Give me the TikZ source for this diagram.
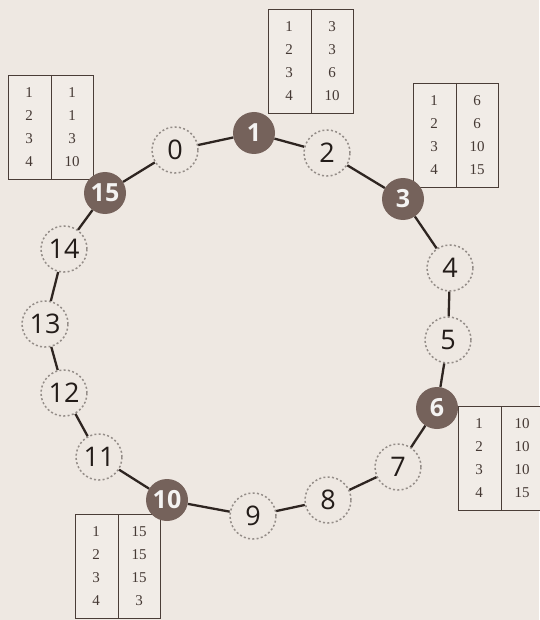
\documentclass[tikz,border=0pt]{standalone}
\usepackage{fontspec}
\setmainfont{Liberation Serif}
\setsansfont{Open Sans}
\usetikzlibrary{calc}
\definecolor{bgc}{HTML}{EEE8E2}
\definecolor{tfill}{HTML}{F1ECE7}
\definecolor{actc}{HTML}{75625B}
\definecolor{linec}{HTML}{2E2521}
\definecolor{dashc}{HTML}{948D88}
\definecolor{numc}{HTML}{231C19}
\definecolor{tabc}{HTML}{4A3D37}
\definecolor{tnumc}{HTML}{453934}
\newcommand\ftable[7]{%
  \node[tbox, anchor=north west] (#1) at (#2,#3) {};
  \draw[tline] (#1.north) -- (#1.south);
  \foreach \i/\v in {1/#4,2/#5,3/#6,4/#7}{
    \node[tnum] (#1-k\i) at ($(#1.north west)+(21,{18+23*(\i-1)})$) {\i};
    \node[tnum] (#1-v\i) at ($(#1.north)+(21,{18+23*(\i-1)})$) {\v};
  }}
\begin{document}
\begin{tikzpicture}[x=1pt,y=-1pt,
  act/.style={circle, fill=actc, minimum size=42pt, inner sep=0pt, text=white!92!actc,
    font=\sffamily\bfseries\fontsize{25}{25}\selectfont},
  pas/.style={circle, draw=dashc, dash pattern=on 2pt off 2.3pt, line width=1.5pt,
    minimum size=46pt, inner sep=0pt, text=numc, font=\sffamily\fontsize{27}{27}\selectfont},
  ring/.style={draw=linec, line width=2.3pt},
  tbox/.style={draw=tabc, fill=tfill, line width=1.3pt, minimum width=85pt, minimum height=104pt, inner sep=0pt},
  tline/.style={draw=tabc, line width=1.3pt},
  tnum/.style={inner sep=0pt, text=tnumc, font=\fontsize{15}{15}\selectfont}]
\fill[bgc] (0,0) rectangle (539,620);
\useasboundingbox (0,0) rectangle (539,620);
% finger tables
\ftable{t15}{8}{75}{1}{1}{3}{10}
\ftable{t1}{268}{9}{3}{3}{6}{10}
\ftable{t3}{413}{83}{6}{6}{10}{15}
\ftable{t6}{458}{406}{10}{10}{10}{15}
\ftable{t10}{75}{514}{15}{15}{15}{3}
% ring nodes
\node[pas] (n0) at (175,150) {0};
\node[act] (n1) at (254,133) {1};
\node[pas] (n2) at (327,153) {2};
\node[act] (n3) at (403,199) {3};
\node[pas] (n4) at (450,268) {4};
\node[pas] (n5) at (448,340) {5};
\node[act] (n6) at (437,408) {6};
\node[pas] (n7) at (398,467) {7};
\node[pas] (n8) at (328,500) {8};
\node[pas] (n9) at (253,516) {9};
\node[act] (n10) at (167,500) {10};
\node[pas] (n11) at (99,457) {11};
\node[pas] (n12) at (64,393) {12};
\node[pas] (n13) at (45,324) {13};
\node[pas] (n14) at (64,249) {14};
\node[act] (n15) at (105,193) {15};
% connectors
\foreach \a/\b in {0/1,1/2,2/3,3/4,4/5,5/6,6/7,7/8,8/9,9/10,10/11,11/12,12/13,13/14,14/15,15/0}{
  \draw[ring] (n\a) -- (n\b);
}
\end{tikzpicture}
\end{document}
